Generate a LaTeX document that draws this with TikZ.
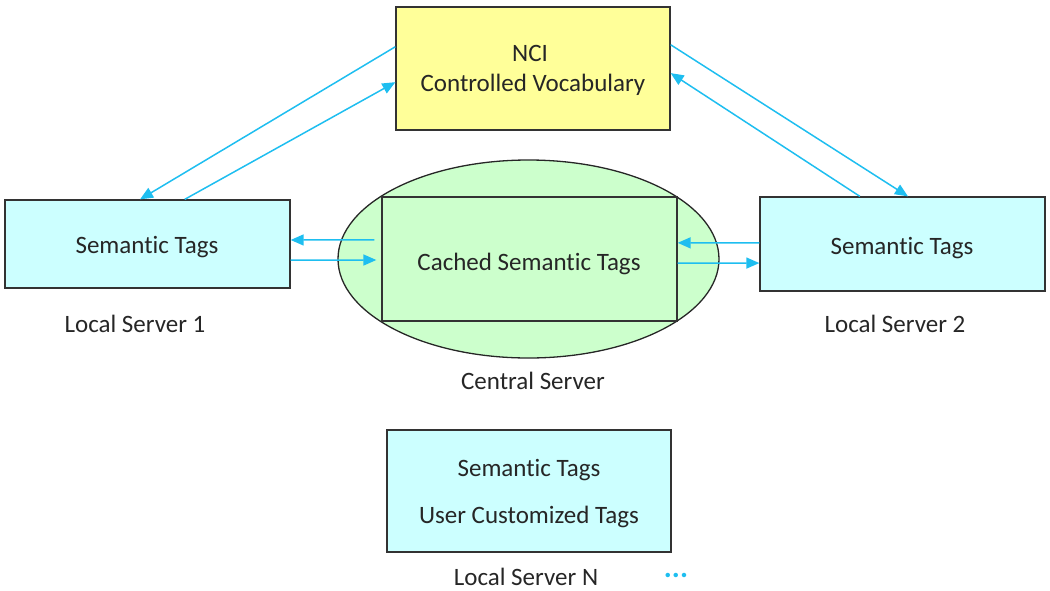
\documentclass[tikz,border=0pt]{standalone}
\usepackage{fontspec}
\setmainfont[Ligatures=NoCommon]{Carlito}
\usetikzlibrary{calc,arrows.meta,shapes.geometric}
\definecolor{boxcyan}{HTML}{CCFFFF}
\definecolor{boxyellow}{HTML}{FFFF99}
\definecolor{boxgreen}{HTML}{CCFFCC}
\definecolor{arrowblue}{HTML}{1EBEF0}
\begin{document}
\begin{tikzpicture}[x=1pt,y=-1pt,
  every node/.style={font=\fontsize{25}{30}\selectfont, text=black!85},
  box/.style={draw=black!80, line width=1.3pt, inner sep=0pt},
  lbl/.style={inner sep=0pt},
  conn/.style={draw=arrowblue, line width=1.5pt, -{Triangle[length=13pt,width=11pt]}}]
\useasboundingbox (0,0) rectangle (1050,590);
\node[box, fill=boxyellow, minimum width=274pt, minimum height=123pt] (nci) at (533,68.5) {};
\node[lbl] (ncit) at (530,53) {NCI};
\node[lbl] (cvt) at (533,85) {Controlled Vocabulary};
\node[box, fill=boxcyan, minimum width=285pt, minimum height=88pt] (ls1) at (147.5,244) {};
\node[lbl] (ls1t) at (147,247) {Semantic Tags};
\node[lbl] (ls1l) at (135,324) {Local Server 1};
\node[draw=black!85, line width=1.3pt, fill=boxgreen, ellipse, minimum width=381pt, minimum height=198pt, inner sep=0pt] (cs) at (528.5,259) {};
\node[box, fill=boxgreen, minimum width=295pt, minimum height=124pt] (cst) at (529.5,259) {};
\node[lbl] (cstt) at (529,264) {Cached Semantic Tags};
\node[lbl] (csl) at (533,381) {Central Server};
\node[box, fill=boxcyan, minimum width=285pt, minimum height=94pt] (ls2) at (902.5,244) {};
\node[lbl] (ls2t) at (902,248) {Semantic Tags};
\node[lbl] (ls2l) at (895,324) {Local Server 2};
\node[box, fill=boxcyan, minimum width=284pt, minimum height=122pt] (lsn) at (529,491) {};
\node[lbl] (lsnt1) at (529,470) {Semantic Tags};
\node[lbl] (lsnt2) at (529,517) {User Customized Tags};
\node[lbl] (lsnl) at (526,577) {Local Server N};
\node[lbl, text=arrowblue, font=\fontsize{30}{30}\selectfont\bfseries] (dots) at (676,575) {...};
% NCI <-> Local Server 1
\draw[conn] ($(nci.north west)!0.325!(nci.south west)$) -- ($(ls1.north west)!0.474!(ls1.north east)$);
\draw[conn] ($(ls1.north west)!0.63!(ls1.north east)$) -- ($(nci.north west)!0.61!(nci.south west)$);
% NCI <-> Local Server 2
\draw[conn] ($(nci.north east)!0.309!(nci.south east)$) -- ($(ls2.north west)!0.519!(ls2.north east)$);
\draw[conn] ($(ls2.north west)!0.351!(ls2.north east)$) -- ($(nci.north east)!0.537!(nci.south east)$);
% Central <-> Local Server 1
\draw[conn] ($(cst.north west)!0.347!(cst.south west)+(-7,0)$) -- ($(ls1.north east)!0.455!(ls1.south east)$);
\draw[conn] ($(ls1.north east)!0.68!(ls1.south east)$) -- ($(cst.north west)!0.508!(cst.south west)+(-5,0)$);
% Central <-> Local Server 2
\draw[conn] ($(ls2.north west)!0.489!(ls2.south west)$) -- ($(cst.north east)!0.371!(cst.south east)$);
\draw[conn] ($(cst.north east)!0.532!(cst.south east)$) -- ($(ls2.north west)!0.70!(ls2.south west)$);
\end{tikzpicture}
\end{document}
